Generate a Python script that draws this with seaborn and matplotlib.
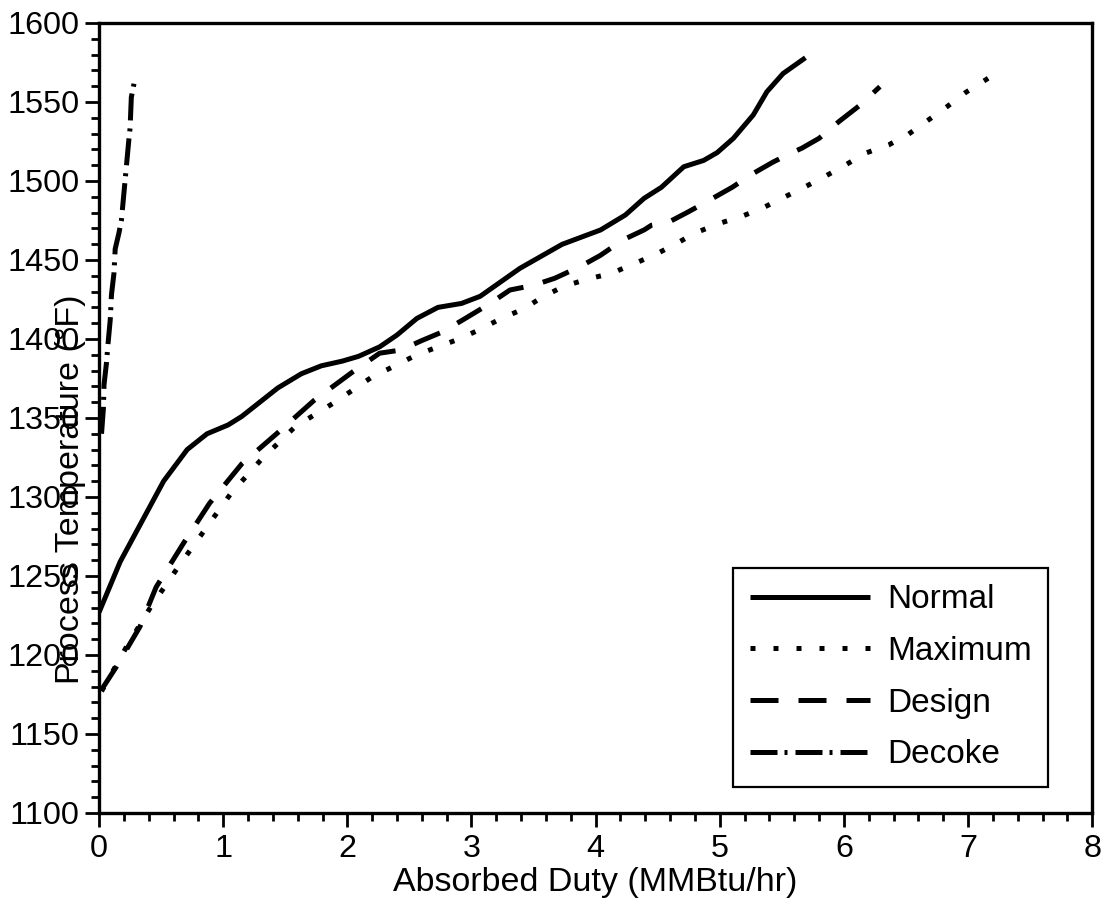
import numpy as np
import pandas as pd
import matplotlib
matplotlib.use("Agg")
import matplotlib.pyplot as plt
import seaborn as sns
from matplotlib.ticker import MultipleLocator

# ---- data ----
normal_x = [0.00, 0.17, 0.52, 0.71, 0.87, 1.04, 1.15, 1.44, 1.63, 1.79, 1.96, 2.09, 2.26, 2.40,
            2.56, 2.73, 2.92, 3.07, 3.39, 3.73, 4.04, 4.24, 4.39, 4.53, 4.71, 4.87, 4.98, 5.11,
            5.27, 5.38, 5.51, 5.69]
normal_y = [1227, 1259, 1310, 1330, 1340, 1345.6, 1351, 1369, 1378, 1383, 1386, 1389, 1395, 1402.5,
            1413, 1420, 1422.5, 1427, 1444.7, 1459.9, 1469, 1478.5, 1489, 1496, 1509, 1513, 1518, 1527,
            1541.8, 1556.5, 1568, 1578]

maximum_x = [0.02, 0.22, 0.41, 0.64, 0.85, 1.06, 1.31, 1.58, 1.90, 2.20, 2.37, 2.56, 2.90, 3.06,
             3.24, 3.42, 3.58, 3.75, 3.94, 4.13, 4.29, 4.47, 4.63, 4.80, 4.99, 5.17, 5.34, 5.50,
             5.68, 5.85, 6.01, 6.17, 6.36, 6.52, 6.67, 6.83, 6.98, 7.15, 7.22]
maximum_y = [1177, 1205, 1229.6, 1256, 1279, 1302, 1324, 1344.5, 1360, 1376, 1382.5, 1390, 1400, 1405.7,
             1413, 1419, 1427, 1433.5, 1438, 1441.6, 1447, 1453, 1459.5, 1467, 1473, 1477.4, 1482.7, 1489,
             1496, 1503, 1510, 1517.5, 1522.8, 1529.6, 1538, 1547, 1556, 1564.4, 1568]

design_x = [0.02, 0.14, 0.33, 0.46, 0.68, 0.89, 1.15, 1.43, 1.73, 2.04, 2.26, 2.43, 2.60, 2.77,
            2.95, 3.15, 3.31, 3.50, 3.67, 3.88, 4.04, 4.22, 4.39, 4.45, 4.59, 4.75, 4.92, 5.10,
            5.27, 5.43, 5.57, 5.66, 5.80, 5.96, 6.13, 6.29]
design_y = [1178, 1192.6, 1218, 1243, 1270.7, 1296, 1321, 1340, 1361, 1379, 1391, 1393, 1399, 1404.6,
            1413, 1422.5, 1431, 1434, 1438.4, 1446, 1453, 1462.7, 1469, 1472, 1474, 1480.6, 1488, 1496,
            1504.8, 1512, 1517.5, 1520.7, 1527, 1537.6, 1548, 1559.7]

decoke_x = [0.02, 0.035, 0.04, 0.06, 0.07, 0.09, 0.10, 0.12, 0.13, 0.16, 0.18, 0.21, 0.24, 0.25,
            0.26, 0.29]
decoke_y = [1340, 1356, 1371, 1385, 1395, 1412, 1428, 1441.5, 1457, 1467, 1475, 1500.6, 1526, 1533.5,
            1553, 1565]

series_names = ["Normal", "Maximum", "Design", "Decoke"]
x_ticks = [0, 1, 2, 3, 4, 5, 6, 7, 8]
y_ticks = [1100, 1150, 1200, 1250, 1300, 1350, 1400, 1450, 1500, 1550, 1600]

# ---- styling ----
sns.set_theme(style="white")
plt.rcParams["font.family"] = ["Liberation Sans", "DejaVu Sans"]
plt.rcParams["text.color"] = "black"
plt.rcParams["axes.labelcolor"] = "black"
plt.rcParams["xtick.color"] = "black"
plt.rcParams["ytick.color"] = "black"

fig = plt.figure(figsize=(11.03, 9.01), dpi=100)
ax = fig.add_axes([0.0898, 0.0977, 0.9004, 0.8768])

lw = 3.6
dash_styles = {
    "Normal": None,
    "Maximum": (1.0, 3.6),
    "Design": (5.6, 4.0),
    "Decoke": (5.4, 1.4, 0.6, 1.6),
}
data = {
    "Normal": (normal_x, normal_y),
    "Maximum": (maximum_x, maximum_y),
    "Design": (design_x, design_y),
    "Decoke": (decoke_x, decoke_y),
}

for name in series_names:
    xs, ys = data[name]
    df = pd.DataFrame({"x": xs, "y": ys})
    sns.lineplot(data=df, x="x", y="y", ax=ax, color="black", linewidth=lw,
                 estimator=None, sort=False, label=name)
    line = ax.lines[-1]
    if dash_styles[name] is not None:
        line.set_dashes(dash_styles[name])
    line.set_dash_capstyle("butt")
    line.set_solid_capstyle("butt")

ax.set_xlim(0, 8)
ax.set_ylim(1100, 1600)
ax.set_xticks(x_ticks)
ax.set_yticks(y_ticks)
ax.xaxis.set_minor_locator(MultipleLocator(0.2))
ax.yaxis.set_minor_locator(MultipleLocator(10))
ax.tick_params(axis="both", which="major", direction="out", length=10, width=2,
               labelsize=23.3, colors="black", pad=4, bottom=True, left=True, top=False, right=False)
ax.tick_params(axis="both", which="minor", direction="out", length=6, width=2,
               bottom=True, left=True, top=False, right=False)
ax.tick_params(axis="x", which="major", pad=5)

for sp in ax.spines.values():
    sp.set_visible(True)
    sp.set_color("black")
    sp.set_linewidth(2.4)

ax.set_xlabel("Absorbed Duty (MMBtu/hr)", fontsize=24.5, color="black", labelpad=2)
ax.set_ylabel("Process Temperature (°F)", fontsize=24.5, color="black", va="center")
ax.yaxis.set_label_coords(-0.029, 0.41)

leg = ax.legend(loc="lower right", bbox_to_anchor=(0.9557, 0.0329), borderaxespad=0,
                fontsize=24, handlelength=3.6, handletextpad=0.5, labelspacing=0.62,
                borderpad=0.5, frameon=True, fancybox=False, framealpha=1)
leg.get_frame().set_edgecolor("black")
leg.get_frame().set_linewidth(1.6)
for t in leg.get_texts():
    t.set_color("black")

fig.savefig("out.png", dpi=100, facecolor="white")
